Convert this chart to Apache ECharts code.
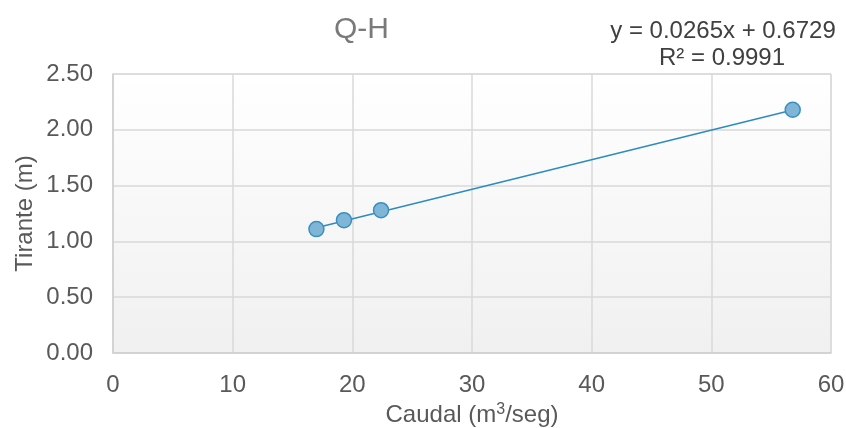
<!DOCTYPE html>
<html><head><meta charset="utf-8">
<script src="https://cdn.jsdelivr.net/npm/echarts@6/dist/echarts.min.js"></script>
<style>html,body{margin:0;padding:0;background:#fff}#c{width:846px;height:428px}</style>
</head><body><div id="c"></div>
<script>
const caudal = [17.0, 19.3, 22.4, 56.8];
const tirante = [1.11, 1.19, 1.28, 2.18];
const trendX = [17.0, 56.8];
const trendY = [1.123, 2.178];
const xTicks = [0, 10, 20, 30, 40, 50, 60];
const yTicks = [0, 0.5, 1.0, 1.5, 2.0, 2.5];
const titleText = 'Q-H';
const eqText = 'y = 0.0265x + 0.6729';
const r2Text = 'R² = 0.9991';

const chart = echarts.init(document.getElementById('c'));
const font = 'Liberation Sans, Arial, sans-serif';
chart.setOption({
  animation: false,
  title: { text: titleText, left: 329, top: 10, textStyle: { fontFamily: font, fontSize: 30, fontWeight: 'normal', color: '#7a7a7a' } },
  graphic: [
    { type: 'text', x: 723, y: 19, style: { text: eqText, fontFamily: font, fontSize: 24, fill: '#404040', textAlign: 'center' } },
    { type: 'text', x: 722, y: 46, style: { text: r2Text, fontFamily: font, fontSize: 24, fill: '#404040', textAlign: 'center' } }
  ],
  grid: { left: 113, right: 15, top: 74, bottom: 75, show: true, borderColor: '#d9d9d9', borderWidth: 1,
    outerBoundsMode: 'none', containLabel: false,
    backgroundColor: new echarts.graphic.LinearGradient(0, 0, 0, 1, [{ offset: 0, color: '#ffffff' }, { offset: 1, color: '#f0f0f0' }]) },
  xAxis: {
    type: 'value', min: xTicks[0], max: xTicks[xTicks.length - 1], interval: 10,
    name: '{a|Caudal (m}{s|3}{a|/seg)}', nameLocation: 'middle', nameGap: 49, nameMoveOverlap: false,
    nameTextStyle: { fontFamily: font, fontSize: 24, color: '#595959',
      rich: { a: { fontFamily: font, fontSize: 24, color: '#595959' },
              s: { fontFamily: font, fontSize: 16, color: '#595959', padding: [0, 0, 10, 0] } } },
    axisLine: { show: true, lineStyle: { color: '#d0d0d0', width: 1.5 } },
    axisTick: { show: false },
    axisLabel: { margin: 20, fontFamily: font, fontSize: 24, color: '#595959' },
    splitLine: { show: true, lineStyle: { color: '#d9d9d9', width: 1.5 } }
  },
  yAxis: {
    type: 'value', min: yTicks[0], max: yTicks[yTicks.length - 1], interval: 0.5,
    name: 'Tirante (m)', nameLocation: 'middle', nameGap: 76, nameMoveOverlap: false,
    nameTextStyle: { fontFamily: font, fontSize: 24, color: '#595959' },
    axisLine: { show: true, lineStyle: { color: '#d0d0d0', width: 1.5 } },
    axisTick: { show: false },
    axisLabel: { margin: 20, fontFamily: font, fontSize: 24, color: '#595959', formatter: v => v.toFixed(2) },
    splitLine: { show: true, lineStyle: { color: '#d9d9d9', width: 1.5 } }
  },
  series: [
    { type: 'line', data: trendX.map((x, i) => [x, trendY[i]]), symbol: 'none',
      lineStyle: { color: '#2e8bbf', width: 1.5 }, z: 2 },
    { type: 'scatter', data: caudal.map((x, i) => [x, tirante[i]]), symbolSize: 15,
      itemStyle: { color: '#7fb6d8', borderColor: '#3a8ebf', borderWidth: 1.5, opacity: 1 }, z: 3 }
  ]
});
</script></body></html>
